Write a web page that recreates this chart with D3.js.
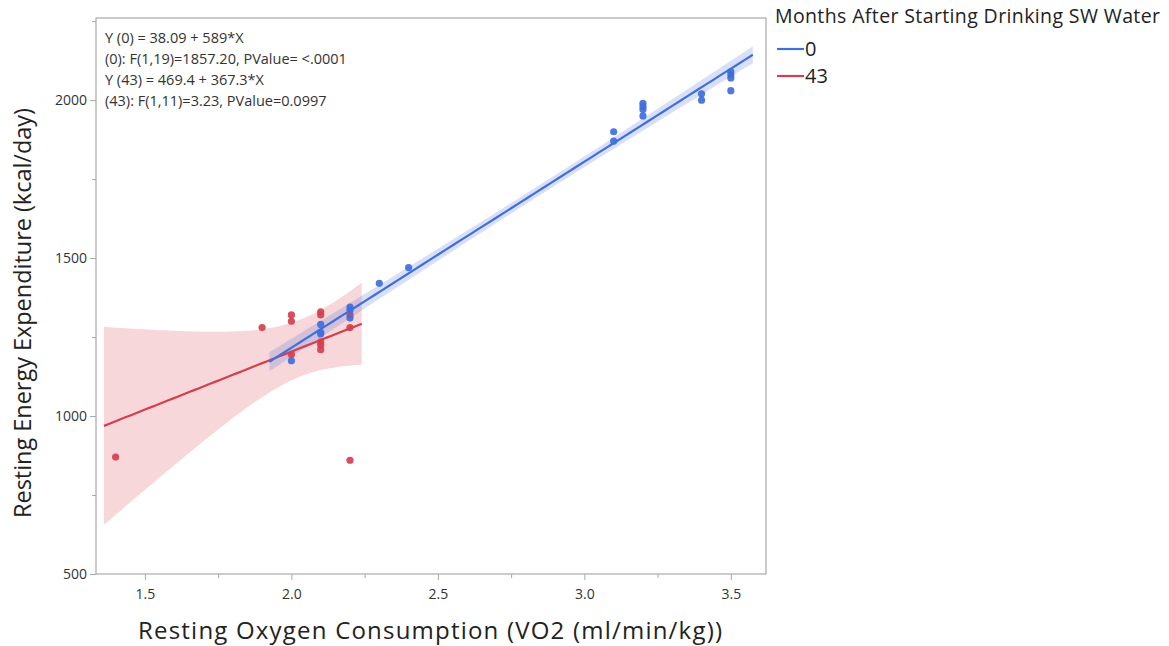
<!DOCTYPE html>
<html>
<head>
<meta charset="utf-8">
<script src="https://cdn.jsdelivr.net/npm/d3@7"></script>
<style>
  body { margin: 0; background: #fff; }
  text { font-family: "Open Sans", "Noto Sans", sans-serif; }
</style>
</head>
<body>
<div id="chart"></div>
<script>
// Data
const groups = ['0', '43'];
const vo2Month0 = [2.0, 2.1, 2.1, 2.1, 2.2, 2.2, 2.2, 2.3, 2.4, 3.1, 3.1, 3.2, 3.2, 3.2, 3.2, 3.4, 3.4, 3.5, 3.5, 3.5, 3.5];
const reeMonth0 = [1175, 1290, 1265, 1260, 1345, 1335, 1310, 1420, 1470, 1900, 1870, 1990, 1980, 1970, 1950, 2020, 2000, 2090, 2080, 2070, 2030];
const vo2Month43 = [1.4, 1.9, 2.0, 2.0, 2.0, 2.1, 2.1, 2.1, 2.1, 2.1, 2.2, 2.2, 2.2];
const reeMonth43 = [870, 1280, 1320, 1300, 1195, 1330, 1320, 1235, 1225, 1210, 1320, 1280, 860];
const intercepts = [38.09, 469.4];
const slopes = [589, 367.3];
const tCrit = [2.093, 2.201];
const fitNotes = [
  'Y (0) = 38.09 + 589*X',
  '(0): F(1,19)=1857.20, PValue= <.0001',
  'Y (43) = 469.4 + 367.3*X',
  '(43): F(1,11)=3.23, PValue=0.0997'
];
const xTicks = [1.5, 2.0, 2.5, 3.0, 3.5];
const yTicks = [500, 1000, 1500, 2000];

const colors = ['#3f6fdb', '#d43f4f'];
const bandColors = ['rgba(80,110,220,0.22)', 'rgba(225,95,105,0.25)'];

const series = groups.map((g, i) => ({
  name: g,
  x: i === 0 ? vo2Month0 : vo2Month43,
  y: i === 0 ? reeMonth0 : reeMonth43,
  a: intercepts[i],
  b: slopes[i],
  t: tCrit[i],
  color: colors[i],
  band: bandColors[i]
}));

// Dimensions
const dimensions = {
  width: 1169,
  height: 646,
  margin: { top: 18, left: 96, right: 403, bottom: 72 }
};
dimensions.ctrWidth = dimensions.width - dimensions.margin.left - dimensions.margin.right;
dimensions.ctrHeight = dimensions.height - dimensions.margin.top - dimensions.margin.bottom;

const svg = d3.select('#chart')
  .append('svg')
  .attr('width', dimensions.width)
  .attr('height', dimensions.height);

const ctr = svg.append('g')
  .attr('transform', `translate(${dimensions.margin.left}, ${dimensions.margin.top})`);

// Scales
const xScale = d3.scaleLinear()
  .domain([1.333, 3.62])
  .range([0, dimensions.ctrWidth]);

const yScale = d3.scaleLinear()
  .domain([500, 2260])
  .range([dimensions.ctrHeight, 0]);

ctr.append('clipPath').attr('id', 'clip')
  .append('rect')
  .attr('width', dimensions.ctrWidth)
  .attr('height', dimensions.ctrHeight);

const plot = ctr.append('g').attr('clip-path', 'url(#clip)');

// fit line + confidence band for the mean
series.forEach(s => {
  const n = s.x.length;
  const xbar = d3.mean(s.x);
  const sxx = d3.sum(s.x, v => (v - xbar) ** 2);
  const sse = d3.sum(s.x, (v, i) => (s.y[i] - (s.a + s.b * v)) ** 2);
  const sd = Math.sqrt(sse / (n - 2));
  const [lo, hi] = d3.extent(s.x);
  const pad = (hi - lo) * 0.05;
  const xs = d3.range(0, 61).map(k => lo - pad + (hi - lo + 2 * pad) * k / 60);
  s.bandData = xs.map(v => {
    const fit = s.a + s.b * v;
    const half = s.t * sd * Math.sqrt(1 / n + (v - xbar) ** 2 / sxx);
    return { x: v, lo: fit - half, hi: fit + half, fit };
  });
});

series.slice().reverse().forEach(s => {
  plot.append('path')
    .datum(s.bandData)
    .attr('d', d3.area()
      .x(d => xScale(d.x))
      .y0(d => yScale(d.lo))
      .y1(d => yScale(d.hi)))
    .attr('fill', s.band);
});

series.slice().reverse().forEach(s => {
  plot.selectAll(null)
    .data(s.x.map((v, i) => [v, s.y[i]]))
    .join('circle')
    .attr('cx', d => xScale(d[0]))
    .attr('cy', d => yScale(d[1]))
    .attr('r', 3.6)
    .attr('fill', s.color)
    .attr('opacity', 0.92);
});

series.slice().reverse().forEach(s => {
  plot.append('path')
    .datum(s.bandData)
    .attr('d', d3.line()
      .x(d => xScale(d.x))
      .y(d => yScale(d.fit)))
    .attr('fill', 'none')
    .attr('stroke', s.color)
    .attr('stroke-width', 2.2);
});

// Frame
ctr.append('rect')
  .attr('width', dimensions.ctrWidth)
  .attr('height', dimensions.ctrHeight)
  .attr('fill', 'none')
  .attr('stroke', '#a8a8a8')
  .attr('stroke-width', 1.2);

// Axes
const xAxis = d3.axisBottom(xScale)
  .tickValues(xTicks)
  .tickFormat(d3.format('.1f'))
  .tickSize(6)
  .tickPadding(9);

const xMinor = d3.axisBottom(xScale)
  .tickValues(xTicks.map(v => v + 0.25).concat([1.25]).filter(v => v > 1.333 && v < 3.62))
  .tickFormat('')
  .tickSize(4);

const yAxis = d3.axisLeft(yScale)
  .tickValues(yTicks)
  .tickFormat(d3.format('d'))
  .tickSize(6)
  .tickPadding(3);

const yMinor = d3.axisLeft(yScale)
  .tickValues(yTicks.map(v => v + 250))
  .tickFormat('')
  .tickSize(4);

[[xAxis, 'bottom'], [xMinor, 'bottom'], [yAxis, 'left'], [yMinor, 'left']].forEach(([ax, side]) => {
  const g = ctr.append('g')
    .attr('transform', side === 'bottom' ? `translate(0, ${dimensions.ctrHeight})` : null)
    .call(ax);
  g.select('.domain').remove();
  g.selectAll('line').attr('stroke', '#a8a8a8');
  g.selectAll('text')
    .attr('fill', '#333')
    .attr('font-size', '14px');
});

// Axis titles
svg.append('text')
  .attr('x', 430)
  .attr('y', 639)
  .attr('text-anchor', 'middle')
  .attr('font-size', '24px')
  .attr('textLength', 584)
  .attr('fill', '#222')
  .text('Resting Oxygen Consumption (VO2 (ml/min/kg))');

svg.append('text')
  .attr('transform', 'rotate(-90)')
  .attr('x', -313)
  .attr('y', 31)
  .attr('text-anchor', 'middle')
  .attr('font-size', '23.5px')
  .attr('textLength', 410)
  .attr('fill', '#222')
  .text('Resting Energy Expenditure (kcal/day)');

// Fit annotations
ctr.append('g')
  .selectAll('text')
  .data(fitNotes)
  .join('text')
  .attr('x', 9)
  .attr('y', (d, i) => 25 + i * 21)
  .attr('font-size', '14.5px')
  .attr('fill', '#333')
  .text(d => d);

// Legend
const legend = svg.append('g').attr('transform', 'translate(775, 0)');
legend.append('text')
  .attr('x', 0)
  .attr('y', 23)
  .attr('font-size', '19.5px')
  .attr('textLength', 385)
  .attr('fill', '#222')
  .text('Months After Starting Drinking SW Water');

series.forEach((s, i) => {
  const y = 49 + i * 27;
  legend.append('line')
    .attr('x1', 2).attr('x2', 29)
    .attr('y1', y).attr('y2', y)
    .attr('stroke', s.color)
    .attr('stroke-width', 2.2);
  legend.append('text')
    .attr('x', 30)
    .attr('y', y + 7)
    .attr('font-size', '20px')
    .attr('fill', '#222')
    .text(s.name);
});
</script>
</body>
</html>
